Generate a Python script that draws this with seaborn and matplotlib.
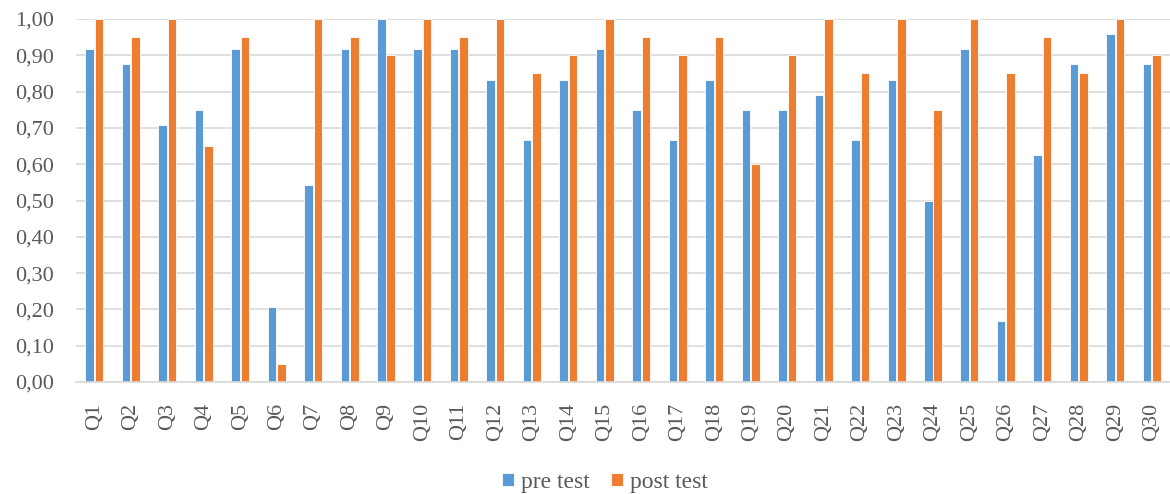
import matplotlib
matplotlib.use("Agg")
import matplotlib.pyplot as plt
import seaborn as sns
import pandas as pd
from matplotlib.ticker import FuncFormatter, MultipleLocator

questions = [f"Q{i}" for i in range(1, 31)]
pre_test = [0.917, 0.875, 0.708, 0.750, 0.917, 0.208, 0.542, 0.917, 1.000, 0.917,
            0.917, 0.833, 0.667, 0.833, 0.917, 0.750, 0.667, 0.833, 0.750, 0.750,
            0.792, 0.667, 0.833, 0.500, 0.917, 0.167, 0.625, 0.875, 0.958, 0.875]
post_test = [1.00, 0.95, 1.00, 0.65, 0.95, 0.05, 1.00, 0.95, 0.90, 1.00,
             0.95, 1.00, 0.85, 0.90, 1.00, 0.95, 0.90, 0.95, 0.60, 0.90,
             1.00, 0.85, 1.00, 0.75, 1.00, 0.85, 0.95, 0.85, 1.00, 0.90]
series_names = ["pre test", "post test"]
colors = ["#5B9BD5", "#ED7D31"]

df = pd.DataFrame({
    "question": questions * 2,
    "score": pre_test + post_test,
    "series": [series_names[0]] * len(questions) + [series_names[1]] * len(questions),
})

sns.set_theme(style="white")
plt.rcParams["font.family"] = ["Liberation Serif", "DejaVu Serif"]
text_color = "#595959"

fig = plt.figure(figsize=(11.7, 4.94), dpi=100)
ax = fig.add_axes([0.065, 0.2267, 0.935, 0.7348])

sns.barplot(data=df, x="question", y="score", hue="series", order=questions,
            hue_order=series_names, palette=colors, saturation=1, width=0.52, gap=0.1,
            edgecolor="white", linewidth=0.6, ax=ax, legend=True)

ax.set_ylim(0, 1.0)
ax.set_xlim(-0.5, len(questions) - 0.5)
ax.yaxis.set_major_locator(MultipleLocator(0.1))
ax.yaxis.set_major_formatter(FuncFormatter(lambda v, _: f"{v:.2f}".replace(".", ",")))
ax.grid(axis="y", color="#D9D9D9", linewidth=1.2)
ax.set_axisbelow(True)
for side in ["top", "right", "left"]:
    ax.spines[side].set_visible(False)
ax.spines["bottom"].set_color("#D9D9D9")
ax.spines["bottom"].set_linewidth(1.2)
ax.set_xlabel("")
ax.set_ylabel("")
ax.tick_params(axis="x", rotation=90, labelsize=16, colors=text_color, length=0, pad=15)
ax.tick_params(axis="y", labelsize=16, colors=text_color, length=0, pad=16)

handles, labels = ax.get_legend_handles_labels()
ax.get_legend().remove()
fig.legend(handles, labels, loc="center", bbox_to_anchor=(0.517, 0.024), ncol=2,
           frameon=False, fontsize=17, labelcolor=text_color, handlelength=0.5,
           handleheight=0.5, handletextpad=0.3, columnspacing=0.9)

fig.savefig("out.png", dpi=100)
